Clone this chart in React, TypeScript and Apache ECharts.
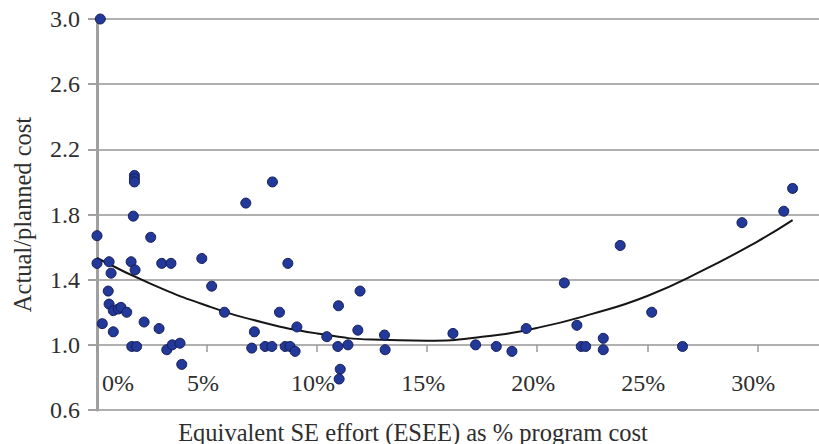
import React, { useEffect, useRef } from "react";
import * as echarts from "echarts";

// ESEE (% of program cost) and actual/planned cost ratio
const eseePct = [
  0.15, 1.7, 1.7, 1.7, 1.65, 0.0, 2.44, 0.0, 0.55, 1.55, 1.73, 0.64, 2.94, 3.36, 4.76,
  0.51, 0.55, 0.74, 0.97, 1.09, 1.35, 0.24, 0.74, 2.14, 2.82, 1.58, 1.8, 3.17, 3.42,
  3.77, 3.85, 7.97, 6.76, 8.67, 5.21, 5.79, 8.29, 9.08, 7.15, 7.03, 7.64, 7.94, 8.55,
  8.77, 9.0, 10.44, 11.95, 10.97, 10.94, 11.4, 11.85, 11.05, 11.0, 13.06, 13.09,
  16.17, 17.2, 18.14, 18.85, 19.5, 21.23, 21.8, 22.0, 22.2, 23.0, 23.0, 23.77, 25.2,
  26.6, 29.3, 31.2, 31.6,
];
const costRatio = [
  3.0, 2.04, 2.02, 2.0, 1.79, 1.67, 1.66, 1.5, 1.51, 1.51, 1.46, 1.44, 1.5, 1.5, 1.53,
  1.33, 1.25, 1.21, 1.22, 1.23, 1.2, 1.13, 1.08, 1.14, 1.1, 0.99, 0.99, 0.97, 1.0,
  1.01, 0.88, 2.0, 1.87, 1.5, 1.36, 1.2, 1.2, 1.11, 1.08, 0.98, 0.99, 0.99, 0.99,
  0.99, 0.96, 1.05, 1.33, 1.24, 0.99, 1.0, 1.09, 0.85, 0.79, 1.06, 0.97,
  1.07, 1.0, 0.99, 0.96, 1.1, 1.38, 1.12, 0.99, 0.99, 1.04, 0.97, 1.61, 1.2,
  0.99, 1.75, 1.82, 1.96,
];

// Trend line
const trendX = [0, 2.5, 5, 7.5, 10, 12.5, 15, 17.5, 20, 22.5, 25, 27.5, 30, 31.6];
const trendY = [1.533, 1.371, 1.24, 1.139, 1.07, 1.032, 1.025, 1.049, 1.104, 1.19, 1.3, 1.455, 1.634, 1.765];

const xTicks = [0, 5, 10, 15, 20, 25, 30];
const yLabels = ["0.6", "1.0", "1.4", "1.8", "2.2", "2.6", "3.0"];
const yAxisTitle = "Actual/planned cost";
const xAxisTitle = "Equivalent SE effort (ESEE) as % program cost";

const FONT = "Liberation Serif";
const TEXT = "#2e2e2e";
const FS = 24;
const FS_NAME = 24.5;

export default function App() {
  const ref = useRef<HTMLDivElement>(null);
  useEffect(() => {
    if (!ref.current) return;
    const chart = echarts.init(ref.current, null, { renderer: "svg" });
    const points = eseePct.map((x, i) => [x, costRatio[i]]);
    const trend = trendX.map((x, i) => [x, trendY[i]]);
    chart.setOption({
      animation: false,
      backgroundColor: "#ffffff",
      textStyle: { fontFamily: FONT },
      grid: { left: 97, right: 0, top: 19, bottom: 34, containLabel: false },
      xAxis: {
        type: "value",
        min: 0,
        max: 32.8,
        position: "bottom",
        offset: -65,
        axisLine: { show: false },
        axisTick: {
          show: true,
          length: 7,
          customValues: xTicks,
          lineStyle: { color: "#9a9a9a", width: 1.5 },
        },
        splitLine: { show: false },
        axisLabel: {
          customValues: xTicks,
          margin: 26,
          fontSize: FS,
          fontFamily: FONT,
          color: TEXT,
          formatter: (v: number) => (v === 0 ? "{z|0%}" : "{a|" + v + "%}"),
          rich: {
            z: { fontSize: FS, fontFamily: FONT, color: TEXT, padding: [0, 0, 0, 42] },
            a: { fontSize: FS, fontFamily: FONT, color: TEXT, padding: [0, 8, 0, 0] },
          },
        },
      },
      yAxis: {
        type: "value",
        min: 0.6,
        max: 3.0,
        interval: 0.4,
        name: yAxisTitle,
        nameLocation: "middle",
        nameGap: 62,
        nameTextStyle: { fontSize: FS_NAME, fontFamily: FONT, color: TEXT },
        axisLine: { show: true, lineStyle: { color: "#a0a0a0", width: 3 } },
        axisTick: { show: true, length: 9, lineStyle: { color: "#a0a0a0", width: 2 } },
        axisLabel: {
          margin: 17,
          fontSize: FS,
          fontFamily: FONT,
          color: TEXT,
          formatter: (v: number) => yLabels[Math.round((v - 0.6) / 0.4)] ?? v.toFixed(1),
        },
        splitLine: { show: true, lineStyle: { color: "#b0b0b0", width: 2 } },
      },
      graphic: [
        {
          type: "text",
          x: 413,
          y: 432,
          style: {
            text: xAxisTitle,
            fontSize: FS_NAME,
            fontFamily: FONT,
            fill: TEXT,
            textAlign: "center",
            textVerticalAlign: "middle",
          },
        },
      ],
      series: [
        {
          type: "line",
          data: trend,
          smooth: true,
          symbol: "none",
          lineStyle: { color: "#151515", width: 2 },
          z: 3,
        },
        {
          type: "scatter",
          data: points,
          symbol: "circle",
          symbolSize: 10,
          clip: false,
          itemStyle: { color: "#23399a", borderColor: "#141c55", borderWidth: 1, opacity: 1 },
          z: 4,
        },
      ],
    });
    return () => chart.dispose();
  }, []);
  return (
    <div
      ref={ref}
      style={{ position: "fixed", left: 0, top: 0, width: 819, height: 444 }}
    />
  );
}
